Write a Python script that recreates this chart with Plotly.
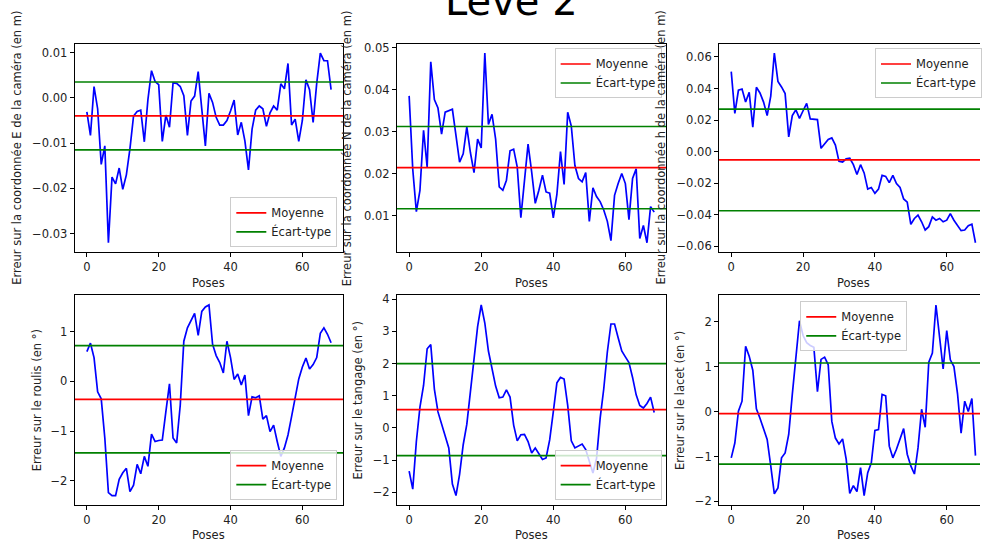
import plotly.graph_objects as go

# ---------------- data ----------------
err_E = [-0.0031, -0.0083, 0.0025, -0.0024, -0.0147, -0.0106, -0.032, -0.0175, -0.019, -0.0155,
         -0.0202, -0.017, -0.0112, -0.004, -0.003, -0.0027, -0.0097, -0.0004, 0.006, 0.0036,
         0.0029, -0.0096, -0.0038, -0.0065, 0.0033, 0.0032, 0.0025, 0.0005, -0.0083, -0.0007,
         0.0004, 0.0058, -0.0025, -0.0106, 0.001, -0.001, -0.0043, -0.006, -0.006, -0.005,
         -0.0029, -0.0005, -0.0082, -0.0054, -0.0095, -0.0159, -0.0069, -0.0027, -0.0018, -0.0024,
         -0.0063, -0.0033, -0.0018, -0.0027, 0.0031, 0.002, 0.0076, -0.006, -0.0047, -0.0096,
         -0.005, 0.004, 0.0018, -0.0054, 0.0032, 0.0099, 0.0082, 0.0082, 0.0018]

err_N = [0.0385, 0.021, 0.0109, 0.016, 0.0303, 0.0215, 0.0466, 0.0376, 0.0356, 0.0294,
         0.0346, 0.035, 0.0353, 0.029, 0.0227, 0.0247, 0.0311, 0.025, 0.0202, 0.0282,
         0.0261, 0.0487, 0.0317, 0.0341, 0.0282, 0.0168, 0.016, 0.0184, 0.0254, 0.0258,
         0.0215, 0.0095, 0.0188, 0.027, 0.0204, 0.0129, 0.016, 0.0196, 0.0156, 0.0153,
         0.0094, 0.015, 0.0252, 0.0174, 0.0346, 0.0313, 0.0219, 0.0188, 0.018, 0.0202,
         0.0086, 0.0166, 0.0145, 0.0133, 0.0113, 0.0086, 0.004, 0.0148, 0.0176, 0.02,
         0.0176, 0.009, 0.0188, 0.0211, 0.0045, 0.0076, 0.0035, 0.0121, 0.0108]

err_h = [0.0507, 0.0242, 0.0389, 0.0397, 0.0314, 0.0376, 0.0155, 0.0408, 0.0372, 0.0314,
         0.0228, 0.0352, 0.0625, 0.0445, 0.041, 0.0368, 0.0093, 0.0228, 0.0265, 0.0211,
         0.0259, 0.0306, 0.0207, 0.0207, 0.0203, 0.0021, 0.0052, 0.0077, 0.0087, 0.0041,
         -0.0062, -0.0066, -0.0046, -0.0042, -0.0083, -0.0145, -0.0083, -0.0135, -0.0238, -0.0228,
         -0.0265, -0.0238, -0.0151, -0.0157, -0.0197, -0.0151, -0.0203, -0.0228, -0.03, -0.0321,
         -0.0461, -0.0424, -0.0403, -0.0445, -0.0497, -0.0476, -0.0414, -0.0435, -0.0424, -0.0445,
         -0.0435, -0.0393, -0.0435, -0.0466, -0.0501, -0.0497, -0.047, -0.046, -0.0578]

err_roulis = [0.6, 0.77, 0.48, -0.21, -0.35, -1.14, -2.24, -2.3, -2.3, -1.97,
              -1.84, -1.75, -2.22, -2.09, -1.67, -1.86, -1.51, -1.71, -1.06, -1.21,
              -1.19, -1.18, -0.61, -0.05, -1.14, -1.24, -0.48, 0.81, 1.08, 1.23,
              1.37, 0.93, 1.41, 1.5, 1.54, 0.75, 0.52, 0.38, 0.17, 0.81,
              0.48, 0.04, 0.15, -0.07, 0.13, -0.69, -0.31, -0.33, -0.29, -0.76,
              -0.69, -1.01, -0.88, -1.21, -1.51, -1.34, -1.08, -0.71, -0.35, 0.05,
              0.29, 0.47, 0.25, 0.34, 0.48, 0.97, 1.08, 0.95, 0.78]

err_tangage = [-1.34, -1.9, -0.42, 0.65, 1.32, 2.46, 2.59, 1.21, 0.5, 0.14,
               -0.2, -0.62, -1.74, -2.1, -1.44, -0.52, 0.11, 1.11, 2.18, 3.15,
               3.82, 3.26, 2.39, 1.88, 1.3, 0.94, 0.96, 1.18, 0.96, 0.09,
               -0.4, -0.21, -0.2, -0.42, -0.78, -0.62, -0.78, -0.98, -0.93, -0.37,
               0.5, 1.4, 1.57, 1.52, 0.7, -0.4, -0.62, -0.57, -0.5, -0.67,
               -1.03, -1.4, -0.95, 0.3, 1.21, 2.36, 3.23, 3.23, 2.8, 2.39,
               2.21, 2.03, 1.57, 1.03, 0.7, 0.62, 0.76, 0.96, 0.48]

err_lacet = [-1.03, -0.7, 0.01, 0.23, 1.45, 1.23, 0.92, 0.06, -0.15, -0.37,
             -0.62, -1.21, -1.83, -1.7, -1.03, -0.92, -0.51, 0.38, 1.26, 2.02,
             1.69, 1.53, 1.47, 1.43, 0.44, 1.16, 1.21, 1.04, -0.22, -0.59,
             -0.72, -0.61, -1.06, -1.82, -1.65, -1.78, -1.25, -1.87, -1.36, -1.14,
             -0.42, -0.4, 0.38, 0.35, -0.77, -1.03, -0.84, -0.6, -0.38, -0.95,
             -1.21, -1.39, -0.81, 0.05, -0.35, 1.1, 1.3, 2.37, 1.65, 0.95,
             1.8, 1.15, 1.0, 0.4, -0.48, 0.23, 0.0, 0.29, -0.98]

series = [err_E, err_N, err_h, err_roulis, err_tangage, err_lacet]
moyennes = [-0.0040, 0.0214, -0.0053, -0.36, 0.57, -0.045]
ecarts_types = [0.0075, 0.0098, 0.0322, 1.08, 1.43, 1.125]

ylabels = ["Erreur sur la coordonnée E de la caméra (en m)",
           "Erreur sur la coordonnée N de la caméra (en m)",
           "Erreur sur la coordonnée h de la caméra (en m)",
           "Erreur sur le roulis (en °)",
           "Erreur sur le tangage (en °)",
           "Erreur sur le lacet (en °)"]
xlabel = "Poses"
title = "Levé 2"
legend_labels = ["Moyenne", "Écart-type"]

# ---------------- layout geometry ----------------
W, H = 982, 547
FONT = "DejaVu Sans"
FS = 11.5
col_px = [(74.8, 344.0), (397.7, 667.8), (720.5, 989.7)]
row_px = [(41.0, 252.0), (295.7, 507.7)]
ylab_x = [17, 348, 662, 37, 359, 682]
xlab_y = [283, 538]
legend_pos = [  # x, y (px), xanchor, yanchor
    (338, 247, "right", "bottom"),
    (663, 46, "right", "top"),
    (984.5, 46, "right", "top"),
    (338, 502.7, "right", "bottom"),
    (663, 502.7, "right", "bottom"),
    (855.5, 301.7, "center", "top"),
]
ytickfmt = [".2f", ".2f", ".2f", "d", "d", "d"]
ydtick = [0.01, 0.01, 0.02, 1, 1, 1]

fig = go.Figure()
layout = dict(width=W, height=H, margin=dict(l=0, r=0, t=0, b=0),
              paper_bgcolor="white", plot_bgcolor="white",
              font=dict(family=FONT, size=FS, color="black"))
annotations = []

for k, y in enumerate(series):
    r, c = divmod(k, 3)
    n = len(y)
    xs = list(range(n))
    sfx = "" if k == 0 else str(k + 1)
    xa, ya = "x" + sfx, "y" + sfx
    lg = "legend" + sfx

    # matplotlib-like autoscale (5% margins)
    x_lo, x_hi = -0.05 * (n - 1), (n - 1) * 1.05
    ymin, ymax = min(y), max(y)
    pad = 0.05 * (ymax - ymin)
    y_rng = [ymin - pad, ymax + pad]

    px0, px1 = col_px[c]
    vis1 = min(px1, W)
    x_rng = [x_lo, x_lo + (x_hi - x_lo) * (vis1 - px0) / (px1 - px0)]

    m, s = moyennes[k], ecarts_types[k]
    fig.add_trace(go.Scatter(x=xs, y=y, mode="lines", line=dict(color="blue", width=1.7),
                             xaxis=xa, yaxis=ya, showlegend=False, hoverinfo="skip"))
    fig.add_trace(go.Scatter(x=[x_lo, x_hi], y=[m, m], mode="lines",
                             line=dict(color="red", width=1.7), name=legend_labels[0],
                             xaxis=xa, yaxis=ya, legend=lg, showlegend=True))
    fig.add_trace(go.Scatter(x=[x_lo, x_hi], y=[m + s, m + s], mode="lines",
                             line=dict(color="green", width=1.7), name=legend_labels[1],
                             xaxis=xa, yaxis=ya, legend=lg, showlegend=True))
    fig.add_trace(go.Scatter(x=[x_lo, x_hi], y=[m - s, m - s], mode="lines",
                             line=dict(color="green", width=1.7), name=legend_labels[1],
                             xaxis=xa, yaxis=ya, legend=lg, showlegend=False))

    py0, py1 = row_px[r]
    axis_common = dict(showline=True, linecolor="black", linewidth=1, showgrid=False,
                       zeroline=False, ticks="outside", ticklen=4, tickwidth=1,
                       tickcolor="black", tickfont=dict(family=FONT, size=FS, color="#222222"))
    layout["xaxis" + sfx] = dict(axis_common, domain=[px0 / W, vis1 / W], range=x_rng,
                                 anchor=ya, mirror=True, tickmode="array",
                                 tickvals=[0, 20, 40, 60], ticktext=["0", "20", "40", "60"])
    layout["yaxis" + sfx] = dict(axis_common, domain=[1 - py1 / H, 1 - py0 / H], range=y_rng,
                                 anchor=xa, mirror=(px1 <= W), tickformat=ytickfmt[k],
                                 dtick=ydtick[k], tick0=0)

    lx, ly, xanc, yanc = legend_pos[k]
    layout[lg] = dict(x=lx / W, y=1 - ly / H, xanchor=xanc, yanchor=yanc,
                      bgcolor="rgba(255,255,255,0.8)", bordercolor="#cccccc", borderwidth=1,
                      font=dict(family=FONT, size=FS, color="#222222"), itemwidth=30)

    annotations.append(dict(text=ylabels[k], xref="paper", yref="paper", x=ylab_x[k] / W,
                            y=1 - (py0 + py1) / 2 / H, textangle=-90, showarrow=False,
                            xanchor="center", yanchor="middle",
                            font=dict(family=FONT, size=FS, color="#222222")))
    annotations.append(dict(text=xlabel, xref="paper", yref="paper", x=(px0 + px1) / 2 / W,
                            y=1 - xlab_y[r] / H, showarrow=False, xanchor="center",
                            yanchor="middle", font=dict(family=FONT, size=FS, color="#222222")))

annotations.append(dict(text=title, xref="paper", yref="paper", x=513 / W, y=1 - 23 / H,
                        showarrow=False, xanchor="center", yanchor="bottom",
                        font=dict(family=FONT, size=40, color="black")))
layout["annotations"] = annotations
fig.update_layout(**layout)
fig.write_html("out.html")
